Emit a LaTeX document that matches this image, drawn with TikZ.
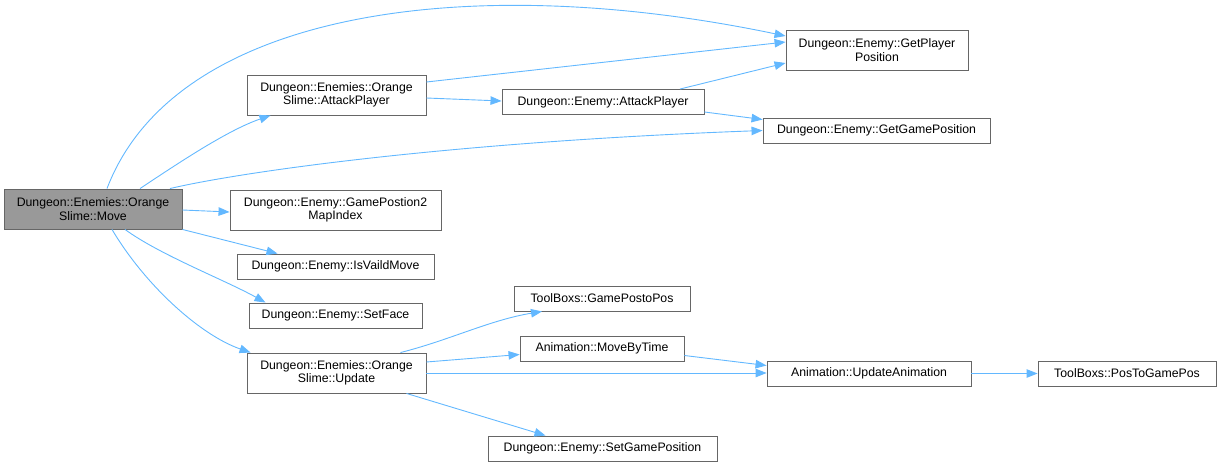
\documentclass[tikz,border=0pt]{standalone}
\usepackage{fontspec}
\setmainfont{Liberation Sans}
\usetikzlibrary{arrows.meta}
\definecolor{edgec}{HTML}{63B8FF}
\definecolor{boxc}{HTML}{666666}
\definecolor{hilite}{HTML}{999999}
\begin{document}
\begin{tikzpicture}[x=1pt,y=-1pt,
  fn/.style={draw=boxc,line width=0.9pt,fill=white,inner sep=0pt,align=center,
    font=\fontsize{12.3}{13.3}\selectfont,text=black,minimum height=25pt},
  two/.style={minimum height=40pt},
  e/.style={draw=edgec,line width=0.9pt,-{Triangle[length=11pt,width=8.5pt]}}]
\useasboundingbox (0,0) rectangle (1223,468);
\node[fn,two,fill=hilite,minimum width=178pt] (move) at (93,209) {Dungeon::Enemies::Orange\\Slime::Move};
\node[fn,two,minimum width=179pt] (oatk) at (336.5,95) {Dungeon::Enemies::Orange\\Slime::AttackPlayer};
\node[fn,two,minimum width=211pt] (g2m) at (335.5,210) {Dungeon::Enemy::GamePostion2\\MapIndex};
\node[fn,minimum width=197pt] (valid) at (335.5,266.5) {Dungeon::Enemy::IsVaildMove};
\node[fn,minimum width=173pt] (face) at (335.5,315.5) {Dungeon::Enemy::SetFace};
\node[fn,two,minimum width=179pt] (upd) at (336.5,373) {Dungeon::Enemies::Orange\\Slime::Update};
\node[fn,minimum width=202pt] (eatk) at (603,102) {Dungeon::Enemy::AttackPlayer};
\node[fn,two,minimum width=182pt] (gpp) at (877,50) {Dungeon::Enemy::GetPlayer\\Position};
\node[fn,minimum width=227pt] (ggp) at (876.5,130.5) {Dungeon::Enemy::GetGamePosition};
\node[fn,minimum width=176pt] (gp2p) at (602,298.5) {ToolBoxs::GamePostoPos};
\node[fn,minimum width=164pt] (mbt) at (602,348.5) {Animation::MoveByTime};
\node[fn,minimum width=229pt] (sgp) at (602.5,448.5) {Dungeon::Enemy::SetGamePosition};
\node[fn,minimum width=204pt] (uani) at (869,373.5) {Animation::UpdateAnimation};
\node[fn,minimum width=178pt] (p2gp) at (1127,373.5) {ToolBoxs::PosToGamePos};

\draw[e] ([xshift=14pt]move.north) .. controls (175,10) and (470,-30) .. ([yshift=14pt]gpp.west);
\draw[e] ([xshift=47pt]move.north) .. controls (180,162) and (228,130) .. ([xshift=-66pt]oatk.south);
\draw[e] ([xshift=77pt]move.north) .. controls (240,172) and (450,142) .. ([yshift=0pt]ggp.west);
\draw[e] ([yshift=-1pt]move.east) -- ([yshift=-2pt]g2m.west);
\draw[e] (move.south east) -- ([xshift=-58pt]valid.north);
\draw[e] ([xshift=32pt]move.south) .. controls (160,255) and (225,280) .. ([xshift=-70pt]face.north);
\draw[e] ([xshift=19pt]move.south) .. controls (145,285) and (200,335) .. ([xshift=4pt]upd.north west);
\draw[e] ([yshift=13pt]oatk.east) -- ([yshift=8pt]gpp.west);
\draw[e] ([yshift=-3pt]oatk.east) -- ([yshift=1pt]eatk.west);
\draw[e] ([xshift=77pt]eatk.north) -- ([yshift=-13pt]gpp.west);
\draw[e] ([yshift=-10pt]eatk.east) -- ([yshift=11pt]ggp.west);
\draw[e] ([xshift=64pt]upd.north) .. controls (450,340) and (490,320) .. ([xshift=-60pt]gp2p.south);
\draw[e] ([yshift=11pt]upd.east) -- ([yshift=-6pt]mbt.west);
\draw[e] (upd.east) -- ([yshift=0.5pt]uani.west);
\draw[e] ([xshift=70pt]upd.south) -- ([xshift=-57pt]sgp.north);
\draw[e] ([yshift=-7pt]mbt.east) -- ([yshift=8pt]uani.west);
\draw[e] (uani.east) -- (p2gp.west);
\end{tikzpicture}
\end{document}
